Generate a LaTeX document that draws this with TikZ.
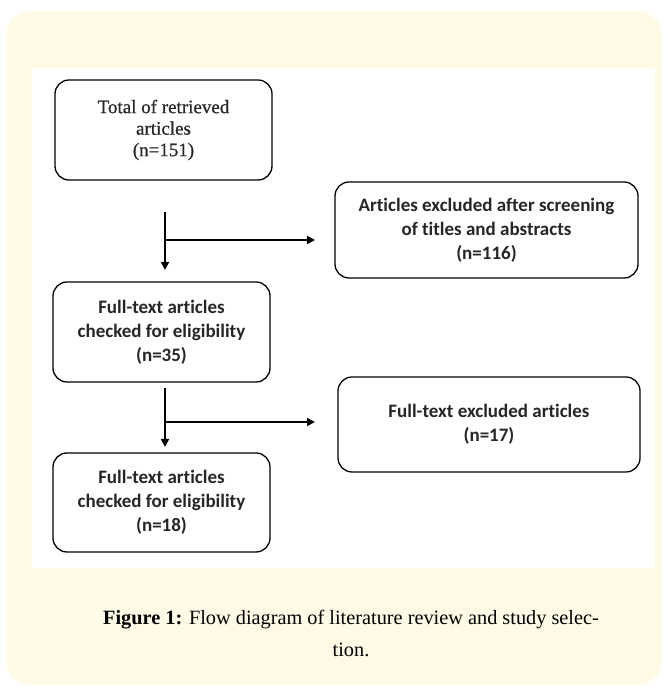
\documentclass[tikz,border=0pt]{standalone}
\usepackage{fontspec}
\setmainfont{Liberation Serif}
\newfontfamily\calib[Ligatures=NoCommon]{Carlito}
\newfontfamily\heavyserif[FakeBold=0.6]{Liberation Serif}
\usetikzlibrary{arrows.meta}
\definecolor{cream}{HTML}{FFFAE6}
\tikzset{
  flowbox/.style={draw=black, line width=1.3pt, rounded corners=14pt, fill=white, align=center, inner sep=0pt},
  serifbox/.style={flowbox, font=\heavyserif\fontsize{19}{21.5}\selectfont, text=black!85},
  sansbox/.style={flowbox, font=\calib\fontsize{19}{24}\selectfont\bfseries, text=black!85},
  flowarrow/.style={line width=1.8pt, -{Triangle[length=8pt,width=8pt]}}
}
\begin{document}
\begin{tikzpicture}[x=1pt,y=1pt]
\useasboundingbox (0,0) rectangle (668,690);
\fill[cream, rounded corners=25pt] (6,5) rectangle (662,679);
\fill[white] (32,122) rectangle (655,622);

\node[serifbox, minimum width=217pt, minimum height=100pt] (total) at (163.5,560) {Total of retrieved\\articles\\(n=151)};
\node[sansbox, minimum width=303pt, minimum height=96pt] (excl1) at (486.5,460) {Articles excluded after screening\\of titles and abstracts\\(n=116)};
\node[sansbox, minimum width=217pt, minimum height=100pt] (full1) at (161.5,358) {Full-text articles\\checked for eligibility\\(n=35)};
\node[sansbox, minimum width=302pt, minimum height=95pt] (excl2) at (489,265.5) {Full-text excluded articles\\(n=17)};
\node[sansbox, minimum width=217pt, minimum height=99pt] (full2) at (161.5,187.5) {Full-text articles\\checked for eligibility\\(n=18)};

\coordinate (a1s) at (165,478);
\coordinate (a1e) at (165,420);
\coordinate (b1s) at (165,450);
\coordinate (b1e) at (315,450);
\coordinate (a2s) at (165,302);
\coordinate (a2e) at (165,243);
\coordinate (b2s) at (165,268);
\coordinate (b2e) at (315,268);

\draw[flowarrow] (a1s) -- (a1e);
\draw[flowarrow] (b1s) -- (b1e);
\draw[flowarrow] (a2s) -- (a2e);
\draw[flowarrow] (b2s) -- (b2e);

\node[font=\fontsize{20.3}{24}\selectfont] (cap1) at (351,70) {\textbf{Figure 1:} Flow diagram of literature review and study selec-};
\node[font=\fontsize{20.3}{24}\selectfont] (cap2) at (351,40) {tion.};
\end{tikzpicture}
\end{document}
